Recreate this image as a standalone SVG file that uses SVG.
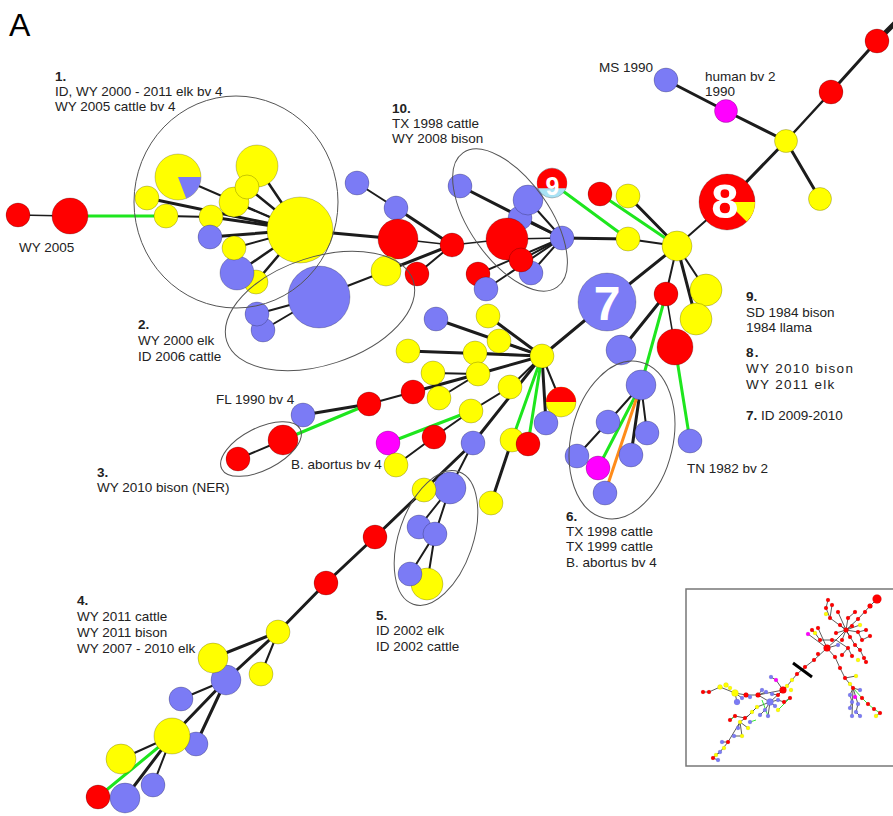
<svg xmlns="http://www.w3.org/2000/svg" width="893" height="816" viewBox="0 0 893 816">
<style>
.e line{stroke:#1c1c1c;stroke-linecap:round}
.g{stroke:#1ee61e;stroke-width:3;stroke-linecap:round}
.o{stroke:#ff8c1a;stroke-width:3;stroke-linecap:round}
.R{fill:#ff0000}.Y{fill:#ffff00}.B{fill:#7b7bf5}.M{fill:#ff00ff}.L{fill:#a8e2f4}
.nd circle{stroke:#000;stroke-opacity:.28;stroke-width:.8}
.cl{fill:none;stroke:#555;stroke-width:1}
.t{font-family:"Liberation Sans",Arial,sans-serif;font-size:13.5px;fill:#222}
.b{font-weight:bold}
.big{font-family:"Liberation Sans",Arial,sans-serif;font-weight:bold;fill:#fff;text-anchor:middle}
.il{stroke:#333;stroke-width:.8;fill:none}
.ig{stroke:#1ee61e;stroke-width:.9;fill:none}
.ind circle{stroke:#000;stroke-opacity:.2;stroke-width:.3}
</style>
<rect width="893" height="816" fill="#fff"/>
<text x="9" y="36" font-family="Liberation Sans,Arial,sans-serif" font-size="32" fill="#000">A</text>

<g id="connectors">
<g class="e">
<line x1="18" y1="215" x2="70" y2="216" stroke-width="1.5"/>
<line x1="178" y1="177" x2="300" y2="230" stroke-width="2"/>
<line x1="257" y1="166" x2="300" y2="230" stroke-width="2.5"/>
<line x1="247" y1="187" x2="300" y2="230" stroke-width="2.5"/>
<line x1="234" y1="202" x2="300" y2="230" stroke-width="2"/>
<line x1="147" y1="198" x2="300" y2="230" stroke-width="3"/>
<line x1="166" y1="216" x2="211" y2="217" stroke-width="2"/>
<line x1="211" y1="217" x2="300" y2="230" stroke-width="3"/>
<line x1="210" y1="237" x2="300" y2="230" stroke-width="3"/>
<line x1="234" y1="248" x2="300" y2="230" stroke-width="2"/>
<line x1="237" y1="273" x2="300" y2="230" stroke-width="2.5"/>
<line x1="256" y1="282" x2="300" y2="230" stroke-width="2.5"/>
<line x1="300" y1="230" x2="398" y2="239" stroke-width="3"/>
<line x1="257" y1="314" x2="319" y2="297" stroke-width="2"/>
<line x1="263" y1="330" x2="319" y2="297" stroke-width="2"/>
<line x1="319" y1="297" x2="386" y2="271" stroke-width="2"/>
<line x1="357" y1="183" x2="396" y2="208" stroke-width="2"/>
<line x1="396" y1="208" x2="452" y2="245" stroke-width="3"/>
<line x1="398" y1="239" x2="452" y2="245" stroke-width="1.5"/>
<line x1="386" y1="271" x2="452" y2="245" stroke-width="3"/>
<line x1="417" y1="274" x2="452" y2="245" stroke-width="2"/>
<line x1="452" y1="245" x2="507" y2="239" stroke-width="1.5"/>
<line x1="460" y1="186" x2="562" y2="238" stroke-width="3"/>
<line x1="528" y1="200" x2="562" y2="238" stroke-width="2"/>
<line x1="520" y1="218" x2="562" y2="238" stroke-width="2"/>
<line x1="507" y1="239" x2="562" y2="238" stroke-width="1.5"/>
<line x1="521" y1="260" x2="562" y2="238" stroke-width="2"/>
<line x1="531" y1="273" x2="562" y2="238" stroke-width="2"/>
<line x1="478" y1="274" x2="562" y2="238" stroke-width="2"/>
<line x1="486" y1="289" x2="562" y2="238" stroke-width="2"/>
<line x1="562" y1="238" x2="628" y2="239" stroke-width="3"/>
<line x1="628" y1="239" x2="677" y2="246" stroke-width="2"/>
<line x1="628" y1="196" x2="677" y2="246" stroke-width="3"/>
<line x1="677" y1="246" x2="607" y2="302" stroke-width="3"/>
<line x1="677" y1="246" x2="727" y2="202" stroke-width="2"/>
<line x1="677" y1="246" x2="666" y2="294" stroke-width="2"/>
<line x1="677" y1="246" x2="706" y2="290" stroke-width="2"/>
<line x1="677" y1="246" x2="696" y2="319" stroke-width="3"/>
<line x1="666" y1="294" x2="675" y2="347" stroke-width="1.5"/>
<line x1="666" y1="294" x2="621" y2="350" stroke-width="3"/>
<line x1="641" y1="385" x2="608" y2="422" stroke-width="2"/>
<line x1="608" y1="422" x2="577" y2="456" stroke-width="2"/>
<line x1="641" y1="385" x2="631" y2="455" stroke-width="3"/>
<line x1="641" y1="385" x2="647" y2="433" stroke-width="2"/>
<line x1="727" y1="202" x2="786" y2="141" stroke-width="3"/>
<line x1="786" y1="141" x2="831" y2="92" stroke-width="2.5"/>
<line x1="831" y1="92" x2="877" y2="41" stroke-width="3"/>
<line x1="877" y1="41" x2="897" y2="21" stroke-width="5"/>
<line x1="786" y1="141" x2="726" y2="111" stroke-width="3"/>
<line x1="726" y1="111" x2="666" y2="80" stroke-width="3"/>
<line x1="786" y1="141" x2="820" y2="199" stroke-width="3"/>
<line x1="607" y1="302" x2="542" y2="356" stroke-width="3"/>
<line x1="542" y1="356" x2="488" y2="316" stroke-width="3"/>
<line x1="542" y1="356" x2="499" y2="341" stroke-width="2"/>
<line x1="436" y1="319" x2="542" y2="356" stroke-width="3"/>
<line x1="408" y1="351" x2="542" y2="356" stroke-width="3"/>
<line x1="475" y1="353" x2="542" y2="356" stroke-width="2"/>
<line x1="433" y1="373" x2="478" y2="374" stroke-width="2"/>
<line x1="478" y1="374" x2="542" y2="356" stroke-width="3"/>
<line x1="413" y1="392" x2="478" y2="374" stroke-width="3"/>
<line x1="439" y1="398" x2="478" y2="374" stroke-width="2"/>
<line x1="413" y1="392" x2="369" y2="404" stroke-width="2"/>
<line x1="369" y1="404" x2="303" y2="415" stroke-width="3"/>
<line x1="283" y1="440" x2="238" y2="459" stroke-width="2"/>
<line x1="510" y1="387" x2="542" y2="356" stroke-width="2"/>
<line x1="471" y1="411" x2="510" y2="387" stroke-width="2"/>
<line x1="471" y1="411" x2="434" y2="437" stroke-width="2"/>
<line x1="434" y1="437" x2="396" y2="465" stroke-width="2"/>
<line x1="542" y1="356" x2="473" y2="443" stroke-width="3"/>
<line x1="542" y1="356" x2="561" y2="402" stroke-width="2"/>
<line x1="542" y1="356" x2="546" y2="423" stroke-width="3"/>
<line x1="512" y1="440" x2="491" y2="503" stroke-width="3"/>
<line x1="473" y1="443" x2="424" y2="490" stroke-width="3"/>
<line x1="424" y1="490" x2="375" y2="537" stroke-width="3"/>
<line x1="375" y1="537" x2="326" y2="583" stroke-width="3"/>
<line x1="326" y1="583" x2="278" y2="632" stroke-width="3"/>
<line x1="473" y1="443" x2="450" y2="488" stroke-width="2"/>
<line x1="450" y1="488" x2="419" y2="527" stroke-width="2"/>
<line x1="450" y1="488" x2="435" y2="534" stroke-width="2"/>
<line x1="435" y1="534" x2="410" y2="574" stroke-width="2"/>
<line x1="435" y1="534" x2="427" y2="584" stroke-width="2"/>
<line x1="278" y1="632" x2="213" y2="658" stroke-width="3"/>
<line x1="278" y1="632" x2="226" y2="680" stroke-width="3"/>
<line x1="278" y1="632" x2="261" y2="674" stroke-width="2"/>
<line x1="226" y1="680" x2="181" y2="699" stroke-width="2"/>
<line x1="226" y1="680" x2="172" y2="736" stroke-width="3"/>
<line x1="226" y1="680" x2="196" y2="744" stroke-width="3"/>
<line x1="172" y1="736" x2="121" y2="759" stroke-width="2"/>
<line x1="172" y1="736" x2="153" y2="785" stroke-width="2"/>
<line x1="172" y1="736" x2="125" y2="798" stroke-width="3"/>
</g>
<g>
<line class="g" x1="70" y1="216" x2="166" y2="216"/>
<line class="g" x1="552" y1="183" x2="628" y2="239"/>
<line class="g" x1="600" y1="194" x2="677" y2="246"/>
<line class="g" x1="675" y1="347" x2="690" y2="441"/>
<line class="g" x1="666" y1="294" x2="641" y2="385"/>
<line class="g" x1="641" y1="385" x2="598" y2="468"/>
<line class="g" x1="369" y1="404" x2="283" y2="440"/>
<line class="g" x1="471" y1="411" x2="388" y2="443"/>
<line class="g" x1="542" y1="356" x2="512" y2="440"/>
<line class="g" x1="542" y1="356" x2="528" y2="444"/>
<line class="g" x1="98" y1="797" x2="172" y2="736"/>
<line class="o" x1="641" y1="385" x2="605" y2="493"/>
</g>
</g>

<g id="nodes" class="nd">
<g id="n_r1"><circle class="R" cx="18" cy="215" r="12"/></g>
<g id="n_r2"><circle class="R" cx="70" cy="216" r="18"/></g>
<g id="c1_pie"><circle class="Y" cx="178" cy="177" r="23"/><path class="B" d="M178,177 L201,177 A23,23 0 0 1 186.2,198.5 Z"/></g>
<g id="c1_y1"><circle class="Y" cx="257" cy="166" r="21"/></g>
<g id="c1_y3"><circle class="Y" cx="234" cy="202" r="15"/></g>
<g id="c1_y2"><circle class="Y" cx="247" cy="187" r="12"/></g>
<g id="c1_y4"><circle class="Y" cx="147" cy="198" r="12"/></g>
<g id="c1_y5"><circle class="Y" cx="166" cy="216" r="12"/></g>
<g id="c1_y6"><circle class="Y" cx="211" cy="217" r="12"/></g>
<g id="c1_b1"><circle class="B" cx="210" cy="237" r="12"/></g>
<g id="c1_y8"><circle class="Y" cx="256" cy="282" r="12"/></g>
<g id="c1_b2"><circle class="B" cx="237" cy="273" r="17"/></g>
<g id="c1_y7"><circle class="Y" cx="234" cy="248" r="12"/></g>
<g id="c1_Y"><circle class="Y" cx="300" cy="230" r="33"/></g>
<g id="c2_B"><circle class="B" cx="319" cy="297" r="31"/></g>
<g id="c2_b2"><circle class="B" cx="263" cy="330" r="12"/></g>
<g id="c2_b1"><circle class="B" cx="257" cy="314" r="12"/></g>
<g id="m_b1"><circle class="B" cx="357" cy="183" r="12"/></g>
<g id="m_b2"><circle class="B" cx="396" cy="208" r="12"/></g>
<g id="m_R"><circle class="R" cx="398" cy="239" r="20"/></g>
<g id="m_r1"><circle class="R" cx="452" cy="245" r="12"/></g>
<g id="m_y1"><circle class="Y" cx="386" cy="271" r="15"/></g>
<g id="m_r2"><circle class="R" cx="417" cy="274" r="12"/></g>
<g id="c10_b1"><circle class="B" cx="460" cy="186" r="12"/></g>
<g id="c10_b3"><circle class="B" cx="520" cy="218" r="12"/></g>
<g id="c10_b2"><circle class="B" cx="528" cy="200" r="15"/></g>
<g id="c10_9"><circle class="L" cx="552" cy="183" r="15"/><path class="R" d="M537.9,188.3 A15,15 0 1 1 566.1,188.3 Z"/><text class="big" x="552.5" y="195" font-size="25">9</text></g>
<g id="c10_R"><circle class="R" cx="507" cy="239" r="21"/></g>
<g id="c10_b5"><circle class="B" cx="531" cy="273" r="12"/></g>
<g id="c10_r1"><circle class="R" cx="521" cy="260" r="12"/></g>
<g id="c10_b4"><circle class="B" cx="562" cy="238" r="12"/></g>
<g id="c10_r2"><circle class="R" cx="478" cy="274" r="12"/></g>
<g id="c10_b6"><circle class="B" cx="486" cy="289" r="12"/></g>
<g id="t_r0"><circle class="R" cx="877" cy="41" r="12"/></g>
<g id="t_r1"><circle class="R" cx="831" cy="92" r="12"/></g>
<g id="t_y1"><circle class="Y" cx="786" cy="141" r="11.5"/></g>
<g id="t_m"><circle class="M" cx="726" cy="111" r="11.5"/></g>
<g id="t_b"><circle class="B" cx="666" cy="80" r="12"/></g>
<g id="t_y2"><circle class="Y" cx="820" cy="199" r="11.5"/></g>
<g id="n8"><circle class="R" cx="727" cy="202" r="28"/><path class="Y" d="M727,202 L755,202 A28,28 0 0 1 746.8,221.8 Z"/><text class="big" x="725" y="218" font-size="49">8</text></g>
<g id="y_a"><circle class="Y" cx="628" cy="196" r="12"/></g>
<g id="r_a"><circle class="R" cx="600" cy="194" r="12"/></g>
<g id="y_b"><circle class="Y" cx="628" cy="239" r="12"/></g>
<g id="H1"><circle class="Y" cx="677" cy="246" r="15"/></g>
<g id="y_c"><circle class="Y" cx="706" cy="290" r="16"/></g>
<g id="y_d"><circle class="Y" cx="696" cy="319" r="16"/></g>
<g id="r_b"><circle class="R" cx="666" cy="294" r="12"/></g>
<g id="R_c"><circle class="R" cx="675" cy="347" r="18"/></g>
<g id="n7"><circle class="B" cx="607" cy="302" r="29"/><text class="big" x="607" y="320" font-size="48">7</text></g>
<g id="c6_b1"><circle class="B" cx="621" cy="350" r="15"/></g>
<g id="c6_b2"><circle class="B" cx="641" cy="385" r="15"/></g>
<g id="c6_b3"><circle class="B" cx="608" cy="422" r="12"/></g>
<g id="c6_b4"><circle class="B" cx="647" cy="433" r="12"/></g>
<g id="c6_b5"><circle class="B" cx="631" cy="455" r="12"/></g>
<g id="c6_b6"><circle class="B" cx="577" cy="456" r="12"/></g>
<g id="c6_m"><circle class="M" cx="598" cy="468" r="12"/></g>
<g id="c6_b7"><circle class="B" cx="605" cy="493" r="12"/></g>
<g id="TN"><circle class="B" cx="690" cy="441" r="12"/></g>
<g id="H2"><circle class="Y" cx="542" cy="356" r="12"/></g>
<g id="h_y1"><circle class="Y" cx="488" cy="316" r="12"/></g>
<g id="h_y2"><circle class="Y" cx="499" cy="341" r="12"/></g>
<g id="h_b1"><circle class="B" cx="436" cy="319" r="12"/></g>
<g id="h_y3"><circle class="Y" cx="408" cy="351" r="12"/></g>
<g id="h_y4"><circle class="Y" cx="475" cy="353" r="12"/></g>
<g id="h_y5"><circle class="Y" cx="433" cy="373" r="12"/></g>
<g id="h_y6"><circle class="Y" cx="478" cy="374" r="12"/></g>
<g id="h_y7"><circle class="Y" cx="439" cy="398" r="12"/></g>
<g id="h_r1"><circle class="R" cx="413" cy="392" r="12"/></g>
<g id="h_r2"><circle class="R" cx="369" cy="404" r="12"/></g>
<g id="FL"><circle class="B" cx="303" cy="415" r="12"/></g>
<g id="c3_R"><circle class="R" cx="283" cy="440" r="15"/></g>
<g id="c3_r"><circle class="R" cx="238" cy="459" r="12"/></g>
<g id="h_y8"><circle class="Y" cx="510" cy="387" r="12"/></g>
<g id="h_y9"><circle class="Y" cx="471" cy="411" r="12"/></g>
<g id="h_r3"><circle class="R" cx="434" cy="437" r="12"/></g>
<g id="h_m"><circle class="M" cx="388" cy="443" r="12"/></g>
<g id="h_y10"><circle class="Y" cx="396" cy="465" r="12"/></g>
<g id="h_ry"><circle class="Y" cx="561" cy="402" r="15"/><path class="R" d="M546,402 A15,15 0 0 1 576,402 Z"/></g>
<g id="h_b2"><circle class="B" cx="546" cy="423" r="12"/></g>
<g id="h_y11"><circle class="Y" cx="512" cy="440" r="12"/></g>
<g id="h_r4"><circle class="R" cx="528" cy="444" r="12"/></g>
<g id="h_y12"><circle class="Y" cx="491" cy="503" r="12"/></g>
<g id="h_b3"><circle class="B" cx="473" cy="443" r="12"/></g>
<g id="c5_B"><circle class="B" cx="450" cy="488" r="16"/></g>
<g id="c5_y"><circle class="Y" cx="424" cy="490" r="12"/></g>
<g id="c5_b1"><circle class="B" cx="419" cy="527" r="12"/></g>
<g id="c5_b2"><circle class="B" cx="435" cy="534" r="12"/></g>
<g id="c5_Y"><circle class="Y" cx="427" cy="584" r="16"/></g>
<g id="c5_b3"><circle class="B" cx="410" cy="574" r="12"/></g>
<g id="ch_r1"><circle class="R" cx="375" cy="537" r="12"/></g>
<g id="ch_r2"><circle class="R" cx="326" cy="583" r="12"/></g>
<g id="c4_y1"><circle class="Y" cx="278" cy="632" r="12"/></g>
<g id="c4_B1"><circle class="B" cx="226" cy="680" r="15"/></g>
<g id="c4_Y1"><circle class="Y" cx="213" cy="658" r="15"/></g>
<g id="c4_y2"><circle class="Y" cx="261" cy="674" r="12"/></g>
<g id="c4_b1"><circle class="B" cx="181" cy="699" r="12"/></g>
<g id="c4_b2"><circle class="B" cx="196" cy="744" r="12"/></g>
<g id="c4_Y2"><circle class="Y" cx="172" cy="736" r="18"/></g>
<g id="c4_Y3"><circle class="Y" cx="121" cy="759" r="15"/></g>
<g id="c4_b3"><circle class="B" cx="153" cy="785" r="12"/></g>
<g id="c4_r"><circle class="R" cx="98" cy="797" r="12"/></g>
<g id="c4_B2"><circle class="B" cx="125" cy="798" r="15"/></g>
</g>

<g id="clusters">
<ellipse class="cl" cx="236" cy="202" rx="102" ry="106"/>
<ellipse class="cl" cx="320" cy="311" rx="98" ry="54" transform="rotate(-18 320 311)"/>
<ellipse class="cl" cx="510" cy="220" rx="82" ry="40" transform="rotate(55 510 220)"/>
<ellipse class="cl" cx="261" cy="449" rx="44" ry="21" transform="rotate(-27 261 449)"/>
<ellipse class="cl" cx="436" cy="538" rx="37" ry="70" transform="rotate(19 436 538)"/>
<ellipse class="cl" cx="622" cy="440" rx="51" ry="80" transform="rotate(13 622 440)"/>
</g>

<g id="labels">
<text class="t b" x="55" y="81">1.</text>
<text class="t" x="55" y="96">ID, WY 2000 - 2011 elk bv 4</text>
<text class="t" x="55" y="111">WY 2005 cattle bv 4</text>
<text class="t" x="19" y="252">WY 2005</text>
<text class="t b" x="392" y="113">10.</text>
<text class="t" x="392" y="128">TX 1998 cattle</text>
<text class="t" x="392" y="143">WY 2008 bison</text>
<text class="t" x="599" y="72">MS 1990</text>
<text class="t" x="705" y="81">human bv 2</text>
<text class="t" x="705" y="96">1990</text>
<text class="t b" x="138" y="329">2.</text>
<text class="t" x="138" y="345">WY 2000 elk</text>
<text class="t" x="138" y="361">ID 2006 cattle</text>
<text class="t" x="216" y="404">FL 1990 bv 4</text>
<text class="t b" x="97" y="477">3.</text>
<text class="t" x="97" y="492">WY 2010 bison (NER)</text>
<text class="t" x="291" y="469">B. abortus bv 4</text>
<text class="t b" x="77" y="605">4.</text>
<text class="t" x="77" y="621">WY 2011 cattle</text>
<text class="t" x="77" y="637">WY 2011 bison</text>
<text class="t" x="77" y="653">WY 2007 - 2010 elk</text>
<text class="t b" x="376" y="620">5.</text>
<text class="t" x="376" y="635">ID 2002 elk</text>
<text class="t" x="376" y="651">ID 2002 cattle</text>
<text class="t b" x="566" y="521">6.</text>
<text class="t" x="566" y="536">TX 1998 cattle</text>
<text class="t" x="566" y="551">TX 1999 cattle</text>
<text class="t" x="566" y="567">B. abortus bv 4</text>
<text class="t b" x="746" y="301">9.</text>
<text class="t" x="746" y="317">SD 1984 bison</text>
<text class="t" x="746" y="332">1984 llama</text>
<text class="t b" x="746" y="357" letter-spacing="1.3">8.</text>
<text class="t" x="746" y="373" letter-spacing="1.3">WY 2010 bison</text>
<text class="t" x="746" y="389" letter-spacing="1.3">WY 2011 elk</text>
<text class="t" x="746" y="420"><tspan class="b">7.</tspan> ID 2009-2010</text>
<text class="t" x="687" y="473">TN 1982 bv 2</text>
</g>

<g id="inset">
<rect x="686" y="589" width="220" height="177" fill="#fff" stroke="#777" stroke-width="1.5"/>
<path class="il" d="M877,599 L870,606 L858,619 L846,630 L836,640 L827,648 L814,660 L805,667 L797,674 L787,686 L783,690 L770,702 L757,707 L748,716 L740,722 L728,742 L720,752 L713,758 M783,690 L758,695 L746,695 L735,693 L720,687 L709,692 L703,692 M846,630 L840,625 M846,630 L852,626 M846,630 L836,633 M846,630 L850,637 M846,630 L842,640 M846,630 L858,632 L866,630 M858,632 L862,640 L870,636 M846,630 L855,645 L860,650 L864,658 L866,662 M846,630 L830,618 L826,608 L828,600 M830,618 L832,605 M846,630 L838,612 M846,630 L848,618 L855,612 M846,630 L860,625 M836,640 L848,648 L842,655 M848,648 L852,656 M836,640 L832,640 L820,640 L815,633 L812,630 M827,648 L818,628 M827,648 L838,645 M827,648 L808,634 M835,657 L840,668 L845,678 L853,688 L850,695 L852,702 L850,708 M853,688 L858,704 L856,712 L860,716 M853,688 L852,716 M853,688 L860,690 M845,678 L856,676 M827,648 L835,657 M783,690 L776,680 L771,677 M783,690 L778,695 L772,694 M758,695 L762,690 M758,695 L766,692 M758,695 L770,702 L775,706 M770,702 L765,710 L760,715 M770,702 L768,716 M770,702 L778,700 L784,702 L790,698 M735,693 L737,702 M735,693 L742,698 M746,695 L750,697 M757,707 L752,712 M748,716 L745,718 L735,716 L730,720 M740,722 L738,728 M740,722 L748,728 M740,722 L742,736 L734,736 M728,742 L722,742 M720,752 L716,755 M713,758 L718,760"/>
<path class="ig" d="M853,688 L862,698 L868,704 L874,709 L880,713 L876,716 M778,710 L790,698 M756,720 L750,722 M762,700 L768,716 M735,716 L730,720"/>
<path d="M793,663 L812,677" stroke="#000" stroke-width="3"/>
<g class="ind">
<circle class="R" cx="877" cy="599" r="4.5"/><circle class="R" cx="870" cy="606" r="2.5"/><circle class="R" cx="865" cy="612" r="2"/><circle class="R" cx="858" cy="619" r="2"/>
<circle class="R" cx="846" cy="630" r="2.5"/><circle class="R" cx="840" cy="625" r="2"/><circle class="R" cx="852" cy="626" r="2"/><circle class="R" cx="836" cy="633" r="2"/><circle class="R" cx="850" cy="637" r="2"/><circle class="R" cx="842" cy="640" r="2"/><circle class="R" cx="858" cy="632" r="2"/><circle class="R" cx="862" cy="640" r="2"/><circle class="R" cx="855" cy="645" r="2"/><circle class="R" cx="830" cy="618" r="2"/><circle class="R" cx="826" cy="608" r="2"/><circle class="R" cx="828" cy="600" r="2"/><circle class="Y" cx="826" cy="614" r="2"/><circle class="R" cx="832" cy="605" r="2"/><circle class="R" cx="838" cy="612" r="2"/><circle class="R" cx="848" cy="618" r="2"/><circle class="R" cx="855" cy="612" r="2"/><circle class="Y" cx="860" cy="625" r="2"/><circle class="R" cx="866" cy="630" r="2"/><circle class="R" cx="870" cy="636" r="2"/><circle class="R" cx="848" cy="648" r="2"/><circle class="R" cx="842" cy="655" r="2"/><circle class="R" cx="852" cy="656" r="2"/><circle class="R" cx="860" cy="650" r="2"/><circle class="R" cx="864" cy="658" r="2"/><circle class="R" cx="866" cy="662" r="2"/><circle class="Y" cx="858" cy="660" r="2"/><circle class="B" cx="838" cy="645" r="2"/><circle class="R" cx="832" cy="640" r="2"/><circle class="R" cx="820" cy="640" r="2"/><circle class="Y" cx="815" cy="633" r="2"/><circle class="R" cx="812" cy="630" r="2"/><circle class="M" cx="808" cy="634" r="2"/><circle class="R" cx="818" cy="628" r="2"/>
<circle class="R" cx="827" cy="648" r="3.5"/><circle class="R" cx="818" cy="654" r="2"/><circle class="R" cx="814" cy="660" r="2"/><circle class="R" cx="805" cy="667" r="2"/><circle class="R" cx="797" cy="674" r="2"/><circle class="Y" cx="792" cy="680" r="2"/><circle class="Y" cx="787" cy="686" r="2"/><circle class="R" cx="783" cy="690" r="3.5"/><circle class="Y" cx="791" cy="690" r="2"/><circle class="R" cx="778" cy="695" r="2"/><circle class="B" cx="772" cy="694" r="2"/><circle class="M" cx="776" cy="680" r="2"/><circle class="B" cx="771" cy="677" r="2"/>
<circle class="R" cx="703" cy="692" r="2"/><circle class="R" cx="709" cy="692" r="2"/><circle class="Y" cx="720" cy="687" r="2.5"/><circle class="Y" cx="726" cy="685" r="2.5"/><circle class="Y" cx="730" cy="688" r="2"/><circle class="Y" cx="735" cy="693" r="3.5"/><circle class="B" cx="737" cy="702" r="3"/><circle class="B" cx="742" cy="698" r="2"/><circle class="R" cx="746" cy="695" r="2.5"/><circle class="B" cx="750" cy="697" r="2"/><circle class="R" cx="758" cy="695" r="2.5"/><circle class="B" cx="762" cy="690" r="2"/><circle class="B" cx="766" cy="692" r="2"/><circle class="B" cx="770" cy="702" r="3.5"/><circle class="B" cx="775" cy="706" r="2"/><circle class="B" cx="765" cy="710" r="2"/><circle class="B" cx="760" cy="715" r="2"/><circle class="B" cx="768" cy="716" r="2"/><circle class="B" cx="778" cy="700" r="2"/><circle class="R" cx="784" cy="702" r="2"/><circle class="R" cx="790" cy="698" r="2"/><circle class="Y" cx="778" cy="710" r="2"/>
<circle class="Y" cx="757" cy="707" r="2"/><circle class="Y" cx="752" cy="712" r="2"/><circle class="R" cx="745" cy="718" r="2"/><circle class="Y" cx="740" cy="722" r="2"/><circle class="R" cx="735" cy="716" r="2"/><circle class="R" cx="730" cy="720" r="2"/><circle class="B" cx="738" cy="728" r="2"/><circle class="Y" cx="748" cy="728" r="2"/><circle class="Y" cx="742" cy="736" r="2"/><circle class="B" cx="734" cy="736" r="2"/><circle class="R" cx="728" cy="742" r="2"/><circle class="Y" cx="724" cy="748" r="2"/><circle class="B" cx="720" cy="752" r="2"/><circle class="Y" cx="716" cy="755" r="2"/><circle class="R" cx="713" cy="758" r="2"/><circle class="B" cx="718" cy="760" r="2"/><circle class="B" cx="722" cy="742" r="2"/><circle class="B" cx="750" cy="722" r="2"/>
<circle class="R" cx="835" cy="657" r="2"/><circle class="R" cx="840" cy="668" r="2"/><circle class="R" cx="845" cy="678" r="2"/><circle class="Y" cx="850" cy="684" r="2"/><circle class="R" cx="853" cy="688" r="2"/><circle class="B" cx="850" cy="695" r="2"/><circle class="M" cx="855" cy="697" r="2"/><circle class="B" cx="852" cy="702" r="2"/><circle class="B" cx="858" cy="704" r="2"/><circle class="B" cx="850" cy="708" r="2"/><circle class="B" cx="856" cy="712" r="2"/><circle class="B" cx="860" cy="716" r="2"/><circle class="B" cx="852" cy="716" r="2"/><circle class="R" cx="862" cy="698" r="2"/><circle class="R" cx="868" cy="704" r="2"/><circle class="R" cx="874" cy="709" r="2"/><circle class="R" cx="880" cy="713" r="2"/><circle class="Y" cx="876" cy="716" r="2"/><circle class="B" cx="860" cy="690" r="2"/><circle class="Y" cx="856" cy="676" r="2"/>
</g>
</g>
</svg>
